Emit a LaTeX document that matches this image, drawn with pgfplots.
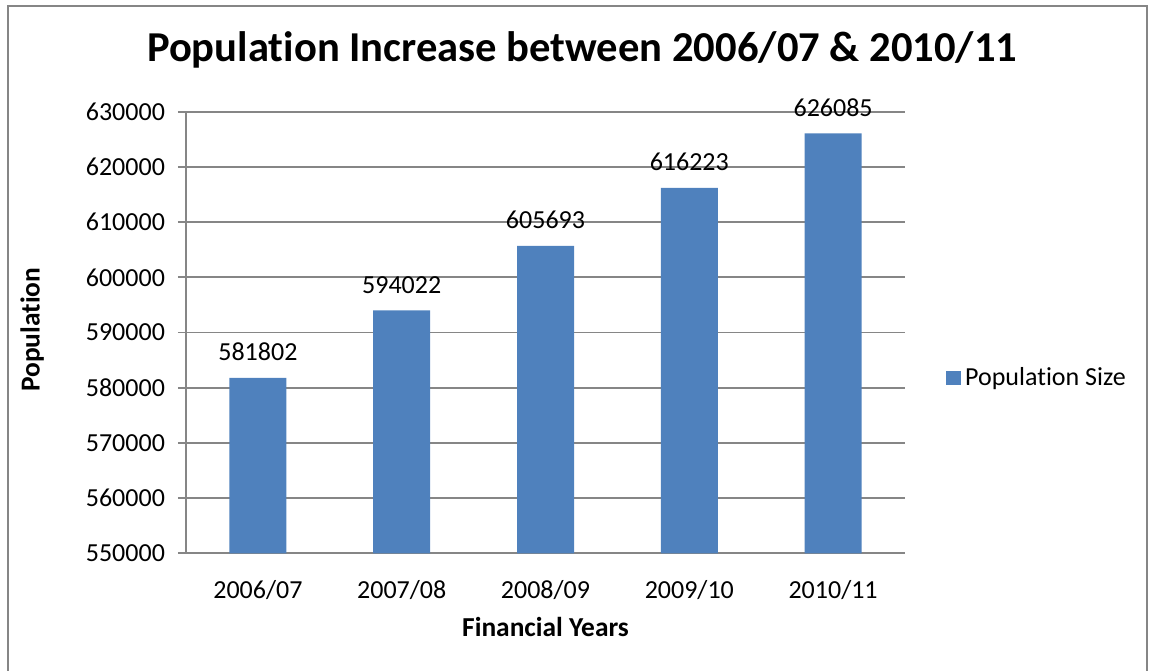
\documentclass[border=0pt]{standalone}
\usepackage{fontspec}
\setmainfont{Carlito}[Ligatures=CommonOff]
\usepackage{pgfplots}
\pgfplotsset{compat=1.18}
\definecolor{barblue}{HTML}{4F81BD}
\definecolor{axgray}{HTML}{868686}
\begin{document}
\begin{tikzpicture}[x=0.5pt,y=0.5pt]
\useasboundingbox (0,0) rectangle (1149,670);
\draw[axgray, line width=1.2pt] (8,-5) -- (8,664) -- (1147,664) -- (1147,-5);
\begin{axis}[
  at={(93pt,58.35pt)}, anchor=south west,
  scale only axis,
  width=359.5pt, height=220.8pt,
  ymin=550000, ymax=630000,
  ytick={550000,560000,...,630000},
  xmin=-0.5, xmax=4.5,
  xtick={0,1,2,3,4},
  xticklabels={2006/07,2007/08,2008/09,2009/10,2010/11},
  scaled y ticks=false,
  /pgf/number format/fixed,
  /pgf/number format/1000 sep={},
  /pgf/number format/assume math mode=true,
  ymajorgrids,
  grid style={axgray, line width=0.9pt},
  axis line style={axgray, line width=0.9pt},
  axis x line*=bottom, axis y line*=left,
  x axis line style={-},
  y axis line style={-},
  major tick length=4pt,
  tick style={axgray, line width=0.9pt},
  xtick style={draw=none},
  ytick pos=left,
  tick align=outside,
  xticklabel style={font=\fontsize{13}{15}\selectfont, yshift=-6pt},
  yticklabel style={font=\fontsize{13}{15}\selectfont, xshift=-3pt},
  title={Population Increase between 2006/07 \& 2010/11},
  title style={font=\bfseries\fontsize{21.3}{25}\selectfont, at={(axis description cs:0.551,1.113)}, anchor=center},
  xlabel={Financial Years},
  xlabel style={font=\bfseries\fontsize{13.7}{16}\selectfont, at={(axis description cs:0.5,-0.167)}, anchor=center},
  ylabel={Population},
  ylabel style={font=\bfseries\fontsize{13.7}{16}\selectfont, at={(axis description cs:-0.214,0.506)}, anchor=center},
  legend style={draw=none, at={(axis description cs:1.057,0.397)}, anchor=west, font=\fontsize{13}{15}\selectfont, inner sep=0pt},
  ybar, bar width=28.5pt,
  nodes near coords,
  nodes near coords style={font=\fontsize{13}{15}\selectfont, anchor=south, yshift=5pt},
]
\addplot[fill=barblue, draw=none, bar shift=0pt,
  legend image code/.code={\fill[barblue] (0cm,-0.13cm) rectangle (0.26cm,0.13cm);}]
  coordinates {(0,581802) (1,594022) (2,605693) (3,616223) (4,626085)};
\addlegendentry{Population Size}
\end{axis}
\end{tikzpicture}
\end{document}
